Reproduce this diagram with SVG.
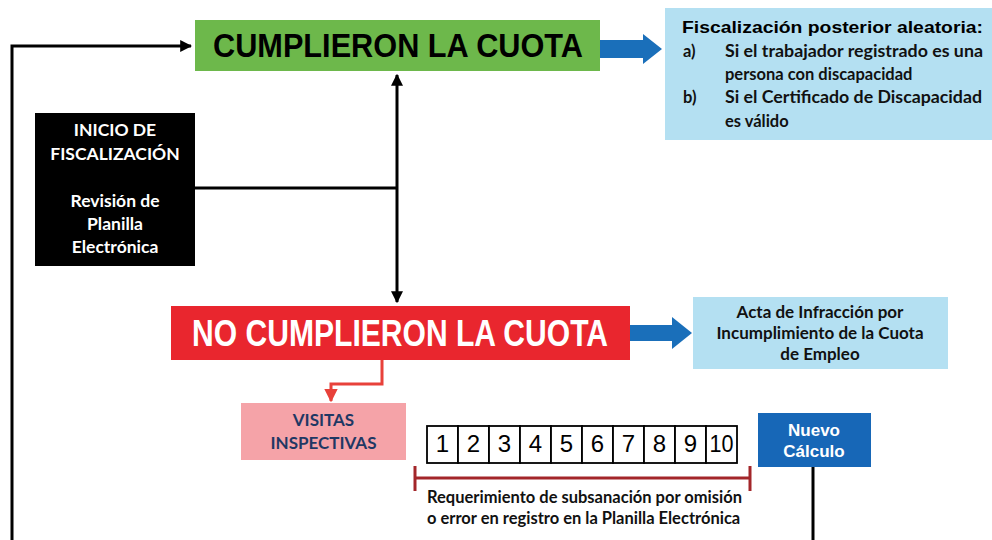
<svg xmlns="http://www.w3.org/2000/svg" width="992" height="540" viewBox="0 0 992 540">
<style>
.hdr{font-family:"Liberation Sans",Arial,sans-serif;font-weight:bold}
.cal{font-family:Lato,"Open Sans",sans-serif;font-weight:bold}
.num{font-family:"Liberation Sans",Arial,sans-serif;font-size:24px;text-anchor:middle;fill:#000}
.ln{stroke:#000;stroke-width:3;fill:none}
.cell{fill:#fff;stroke:#000;stroke-width:1.8}
</style>
<defs>
<marker id="ah" viewBox="0 0 10 10" refX="9" refY="5" markerWidth="4" markerHeight="4" orient="auto-start-reverse" markerUnits="strokeWidth"><path d="M0,0 L10,5 L0,10 z" fill="#000"/></marker>
<marker id="ahr" viewBox="0 0 10 10" refX="9" refY="5" markerWidth="4.5" markerHeight="4.5" orient="auto" markerUnits="strokeWidth"><path d="M0,0 L10,5 L0,10 z" fill="#e8413a"/></marker>
</defs>
<rect width="992" height="540" fill="#fff"/>

<g id="connectors">
<path class="ln" d="M12,540 V46 H191" marker-end="url(#ah)"/>
<path class="ln" d="M195,188 H397"/>
<path class="ln" d="M397,75 V302" marker-start="url(#ah)" marker-end="url(#ah)"/>
<path d="M382,360 V384 H331 V401" fill="none" stroke="#e8413a" stroke-width="3" marker-end="url(#ahr)"/>
<path class="ln" d="M813,467 V540"/>
<path d="M600,40 H643 V34 L662,49 L643,64 V58 H600 z" fill="#1a6fba"/>
<path d="M630,325 H672 V317 L692,333 L672,349 V341 H630 z" fill="#1a6fba"/>
<path d="M415,478 H750 M415,466 V491 M750,466 V491" fill="none" stroke="#a3262a" stroke-width="3"/>
</g>

<g id="cumplieron">
<rect x="195" y="20" width="405" height="51" fill="#6db84b"/>
<text class="hdr" x="213" y="57" font-size="33" textLength="370" lengthAdjust="spacingAndGlyphs" fill="#000">CUMPLIERON LA CUOTA</text>
</g>

<g id="fiscalizacion-posterior">
<rect x="665" y="8" width="327" height="132" fill="#b4e0f2"/>
<text class="hdr" x="682" y="33" font-size="17" textLength="301" lengthAdjust="spacingAndGlyphs" fill="#000">Fiscalización posterior aleatoria:</text>
<g class="cal" font-size="16.5" fill="#111">
<text x="683" y="57">a)</text>
<text x="725" y="57" textLength="258" lengthAdjust="spacingAndGlyphs">Si el trabajador registrado es una</text>
<text x="725" y="80">persona con discapacidad</text>
<text x="683" y="103">b)</text>
<text x="725" y="103" textLength="257" lengthAdjust="spacingAndGlyphs">Si el Certificado de Discapacidad</text>
<text x="725" y="127">es válido</text>
</g>
</g>

<g id="inicio">
<rect x="35" y="113" width="160" height="153" fill="#000"/>
<g class="cal" font-size="17.5" fill="#fff" text-anchor="middle">
<text x="115" y="136">INICIO DE</text>
<text x="115" y="160">FISCALIZACIÓN</text>
<text x="115" y="207">Revisión de</text>
<text x="115" y="230">Planilla</text>
<text x="115" y="253">Electrónica</text>
</g>
</g>

<g id="no-cumplieron">
<rect x="171" y="306" width="459" height="54" fill="#e9262e"/>
<text class="hdr" x="192" y="346" font-size="36" textLength="416" lengthAdjust="spacingAndGlyphs" fill="#fff">NO CUMPLIERON LA CUOTA</text>
</g>

<g id="acta">
<rect x="693" y="297" width="255" height="72" fill="#b4e0f2"/>
<g class="cal" font-size="17" fill="#111" text-anchor="middle">
<text x="820" y="318">Acta de Infracción por</text>
<text x="820" y="339">Incumplimiento de la Cuota</text>
<text x="820" y="360">de Empleo</text>
</g>
</g>

<g id="visitas">
<rect x="241" y="403" width="165" height="57" fill="#f5a3a8"/>
<g class="cal" font-size="17" fill="#1f3864" text-anchor="middle">
<text x="323.5" y="426">VISITAS</text>
<text x="323.5" y="449">INSPECTIVAS</text>
</g>
</g>

<g id="dias">
<rect class="cell" x="427" y="426" width="31" height="37"/>
<rect class="cell" x="458" y="426" width="31" height="37"/>
<rect class="cell" x="489" y="426" width="31" height="37"/>
<rect class="cell" x="520" y="426" width="31" height="37"/>
<rect class="cell" x="551" y="426" width="31" height="37"/>
<rect class="cell" x="582" y="426" width="31" height="37"/>
<rect class="cell" x="613" y="426" width="31" height="37"/>
<rect class="cell" x="644" y="426" width="31" height="37"/>
<rect class="cell" x="675" y="426" width="31" height="37"/>
<rect class="cell" x="706" y="426" width="31" height="37"/>
<text class="num" x="442.5" y="452">1</text>
<text class="num" x="473.5" y="452">2</text>
<text class="num" x="504.5" y="452">3</text>
<text class="num" x="535.5" y="452">4</text>
<text class="num" x="566.5" y="452">5</text>
<text class="num" x="597.5" y="452">6</text>
<text class="num" x="628.5" y="452">7</text>
<text class="num" x="659.5" y="452">8</text>
<text class="num" x="690.5" y="452">9</text>
<text class="num" x="721.5" y="452" textLength="24" lengthAdjust="spacingAndGlyphs">10</text>
</g>

<g id="requerimiento">
<g class="cal" font-size="16.5" fill="#111">
<text x="427" y="503">Requerimiento de subsanación por omisión</text>
<text x="427" y="524">o error en registro en la Planilla Electrónica</text>
</g>
</g>

<g id="nuevo-calculo">
<rect x="758" y="413" width="113" height="54" fill="#1767b7"/>
<g class="hdr" font-size="17" fill="#fff" text-anchor="middle">
<text x="814" y="436">Nuevo</text>
<text x="814" y="457">Cálculo</text>
</g>
</g>
</svg>
